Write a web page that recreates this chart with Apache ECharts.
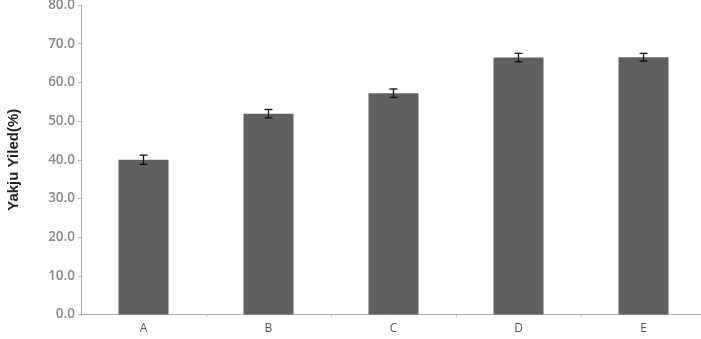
<!DOCTYPE html>
<html>
<head>
<meta charset="utf-8">
<script src="https://cdn.jsdelivr.net/npm/echarts@6/dist/echarts.min.js"></script>
<style>html,body{margin:0;padding:0;background:#fff}#c{width:701px;height:339px}</style>
</head>
<body>
<div id="c"></div>
<script>
var categories = ['A', 'B', 'C', 'D', 'E'];
var yieldValues = [40.0, 51.9, 57.2, 66.4, 66.5];
var yieldErrors = [1.2, 1.1, 1.1, 1.1, 1.0];
var yTicks = { min: 0, max: 80, interval: 10 };

var errData = categories.map(function (c, i) {
  return [i, yieldValues[i] - yieldErrors[i], yieldValues[i] + yieldErrors[i]];
});

var chart = echarts.init(document.getElementById('c'), null, { renderer: 'canvas' });
chart.setOption({
  animation: false,
  grid: { left: 81, top: 5, width: 625, height: 309.5, containLabel: false, outerBoundsMode: 'none' },
  xAxis: {
    type: 'category',
    data: categories,
    axisLine: { lineStyle: { color: '#b0b0b0', width: 1 } },
    axisTick: { show: true, length: 2, lineStyle: { color: '#b0b0b0' } },
    axisLabel: { color: '#555', fontFamily: 'Open Sans', fontSize: 12, margin: 8 }
  },
  yAxis: {
    type: 'value',
    min: yTicks.min, max: yTicks.max, interval: yTicks.interval,
    name: 'Yakju Yiled(%)',
    nameLocation: 'middle',
    nameGap: 60,
    nameTextStyle: { fontFamily: 'Liberation Sans', fontWeight: 'bold', fontSize: 15, color: '#222' },
    axisLine: { show: true, lineStyle: { color: '#b0b0b0', width: 1 } },
    axisTick: { show: true, length: 3, lineStyle: { color: '#b0b0b0' } },
    splitLine: { show: false },
    axisLabel: {
      color: '#8a8a8a', fontFamily: 'Open Sans', fontWeight: 600, fontSize: 13.5, margin: 6,
      formatter: function (v) { return v.toFixed(1); }
    }
  },
  series: [
    {
      type: 'bar',
      data: yieldValues,
      barWidth: 50,
      itemStyle: { color: '#606060' }
    },
    {
      type: 'custom',
      data: errData,
      z: 10,
      renderItem: function (params, api) {
        var x = api.value(0);
        var lo = api.coord([x, api.value(1)]);
        var hi = api.coord([x, api.value(2)]);
        var hw = 4;
        var st = { stroke: '#111', lineWidth: 1.3 };
        return {
          type: 'group',
          children: [
            { type: 'line', shape: { x1: lo[0], y1: lo[1], x2: hi[0], y2: hi[1] }, style: st },
            { type: 'line', shape: { x1: lo[0] - hw, y1: lo[1], x2: lo[0] + hw, y2: lo[1] }, style: st },
            { type: 'line', shape: { x1: hi[0] - hw, y1: hi[1], x2: hi[0] + hw, y2: hi[1] }, style: st }
          ]
        };
      }
    }
  ]
});
</script>
</body>
</html>
